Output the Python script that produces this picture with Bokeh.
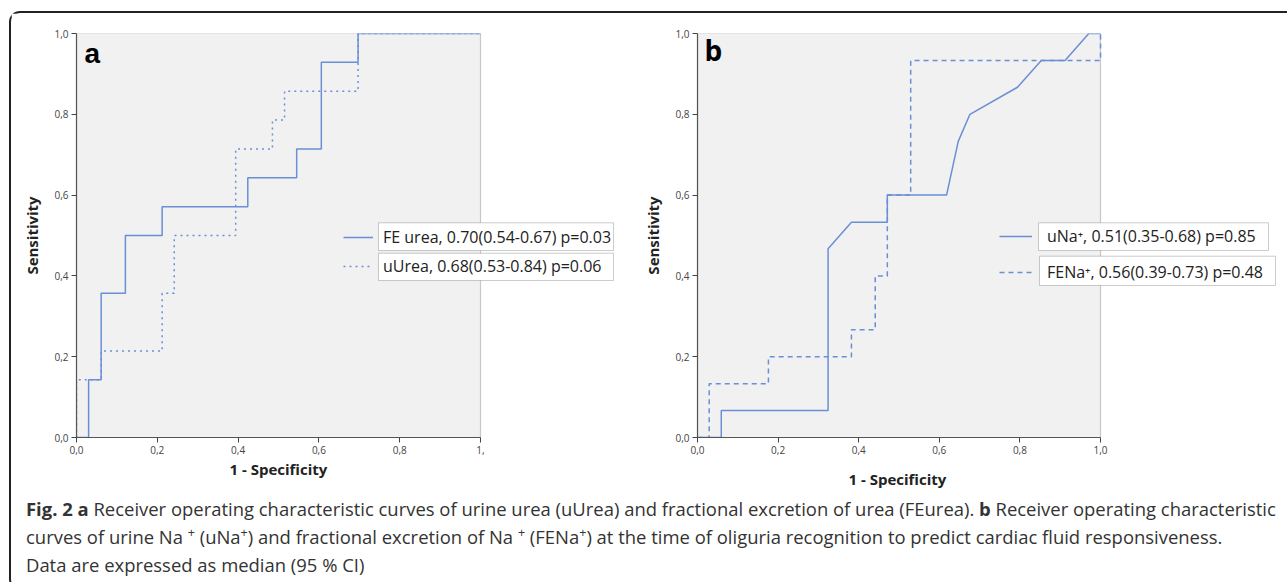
from bokeh.plotting import figure
from bokeh.models import (Range1d, FixedTicker, Legend, LegendItem, BoxAnnotation,
                          Label, Div, Title)
from bokeh.layouts import column, row
from bokeh.embed import file_html
from bokeh.resources import INLINE

# ---------------- data ----------------
ticks = [0, 0.2, 0.4, 0.6, 0.8, 1.0]
tick_labels = ["0,0", "0,2", "0,4", "0,6", "0,8", "1,0"]

# panel a : FE urea (solid)
fe_urea_fpr = [0, 0.030, 0.030, 0.061, 0.061, 0.121, 0.121, 0.212, 0.212, 0.424, 0.424,
               0.545, 0.545, 0.606, 0.606, 0.697, 0.697, 1.0]
fe_urea_tpr = [0, 0, 0.143, 0.143, 0.357, 0.357, 0.500, 0.500, 0.571, 0.571, 0.643,
               0.643, 0.714, 0.714, 0.929, 0.929, 1.0, 1.0]
# panel a : uUrea (dotted)
uurea_fpr = [0, 0, 0.061, 0.061, 0.212, 0.212, 0.242, 0.242, 0.394, 0.394, 0.485, 0.485,
             0.515, 0.515, 0.697, 0.697, 1.0]
uurea_tpr = [0, 0.143, 0.143, 0.214, 0.214, 0.357, 0.357, 0.500, 0.500, 0.714, 0.714,
             0.786, 0.786, 0.857, 0.857, 1.0, 1.0]
# panel b : uNa+ (solid)
una_fpr = [0, 0.059, 0.059, 0.324, 0.324, 0.382, 0.471, 0.471, 0.618, 0.647, 0.676,
           0.794, 0.853, 0.912, 0.971, 1.0]
una_tpr = [0, 0, 0.067, 0.067, 0.467, 0.533, 0.533, 0.600, 0.600, 0.733, 0.800,
           0.867, 0.933, 0.933, 1.0, 1.0]
# panel b : FENa+ (dashed)
fena_fpr = [0, 0.029, 0.029, 0.176, 0.176, 0.382, 0.382, 0.441, 0.441, 0.471, 0.471,
            0.529, 0.529, 1.0, 1.0]
fena_tpr = [0, 0, 0.133, 0.133, 0.200, 0.200, 0.267, 0.267, 0.400, 0.400, 0.600,
            0.600, 0.933, 0.933, 1.0]

legend_a = ["FE urea, 0.70(0.54-0.67) p=0.03", "uUrea, 0.68(0.53-0.84) p=0.06"]
legend_b = ["uNa\u207a, 0.51(0.35-0.68) p=0.85", "FENa\u207a, 0.56(0.39-0.73) p=0.48"]
x_title = "1 - Specificity"
y_title = "Sensitivity"

LINE = "#6a8fd5"
FONT = "Open Sans"
FIG_H = 486
TOP = 20
BOTTOM = 62


def make_panel(width, bl, br, x_end, x_override, letter, letter_font,
               letter_x, letter_y, title_offset, title_standoff):
    p = figure(width=width, height=FIG_H, output_backend="svg", toolbar_location=None,
               title=None, x_range=Range1d(0, x_end), y_range=Range1d(0, 1),
               min_border_left=bl, min_border_right=br, min_border_top=TOP,
               min_border_bottom=BOTTOM)
    p.background_fill_color = "white"
    p.border_fill_color = "white"
    p.outline_line_color = None
    p.grid.visible = False
    # the plotting area of the chart (0..1 x 0..1)
    p.add_layout(BoxAnnotation(left=0, right=1, bottom=0, top=1, fill_color="#f1f1f1",
                               fill_alpha=1, line_color="#555555", line_width=1.2,
                               level="underlay"))
    for ax in (p.xaxis[0], p.yaxis[0]):
        ax.ticker = FixedTicker(ticks=ticks)
        ax.bounds = (0, 1)
        ax.minor_tick_line_color = None
        ax.major_tick_in = 0
        ax.major_tick_out = 5
        ax.major_tick_line_color = "#444444"
        ax.axis_line_color = "#555555"
        ax.axis_line_width = 1.2
        ax.major_label_text_font = FONT
        ax.major_label_text_font_size = "10px"
        ax.major_label_text_color = "#444444"
        ax.major_label_standoff = 3
        ax.axis_label_text_font = FONT
        ax.axis_label_text_font_size = "15px"
        ax.axis_label_text_font_style = "bold"
        ax.axis_label_text_color = "#222222"
    p.yaxis[0].major_label_overrides = dict(zip(ticks, tick_labels))
    xl = dict(zip(ticks, tick_labels))
    xl[1.0] = x_override
    p.xaxis[0].major_label_overrides = xl
    p.yaxis[0].axis_label = y_title
    p.yaxis[0].axis_label_standoff = 9
    # x title centred under the 0..1 part of the axis
    p.add_layout(Title(text=x_title, align="left", offset=title_offset,
                       standoff=title_standoff, text_font=FONT, text_font_size="15px",
                       text_font_style="bold", text_color="#222222"), "below")
    p.add_layout(Label(x=letter_x, y=letter_y, x_units="screen", y_units="screen", text=letter,
                       text_font=letter_font, text_font_size="28px", text_font_style="bold",
                       text_color="black", text_baseline="middle"))
    return p


def add_legend(p, texts, rends, ylocs, boxes, xloc, gw, standoff):
    for (l, r, t, b) in boxes:
        p.add_layout(BoxAnnotation(left=l, right=r, top=t, bottom=b, left_units="screen",
                                   right_units="screen", top_units="screen",
                                   bottom_units="screen", fill_color="white", fill_alpha=1,
                                   line_color="#555555", line_width=1))
    for txt, rend, yloc in zip(texts, rends, ylocs):
        lg = Legend(items=[LegendItem(label=txt, renderers=[rend])], location=(xloc, yloc),
                    padding=0, margin=0, border_line_alpha=0, background_fill_alpha=0,
                    glyph_width=gw, glyph_height=20, label_standoff=standoff, label_height=20,
                    label_text_font=FONT, label_text_font_size="16px",
                    label_text_color="#222222")
        p.add_layout(lg)


# ---------------- panel a ----------------
pa = make_panel(609, 65, 4, 540 / 404, "1,", "a", "Liberation Sans", 8, 383.7, 153, 0)
ra1 = pa.line(fe_urea_fpr, fe_urea_tpr, line_color=LINE, line_width=1.5)
ra2 = pa.line(uurea_fpr, uurea_tpr, line_color=LINE, line_width=1.5, line_dash="2 4")
add_legend(pa, legend_a, [ra1, ra2], [188.7, 159.7],
           [(302, 537, 214.7, 187), (302, 537, 184.3, 157)], 267, 30, 10)

# ---------------- panel b ----------------
pb = make_panel(666, 77, 4, 585 / 403, "1,0", "b", "Open Sans", 7, 387.6, 151, 20)
rb1 = pb.line(una_fpr, una_tpr, line_color=LINE, line_width=1.5)
rb2 = pb.line(fena_fpr, fena_tpr, line_color=LINE, line_width=1.5, line_dash="5 4")
add_legend(pb, legend_b, [rb1, rb2], [190.3, 153.7],
           [(341, 571, 214.7, 187), (342, 578, 181.3, 152)], 302, 33, 15)

# ---------------- caption ----------------
SUP = '<sup style="font-size:0.68em;line-height:0">+</sup>'
caption_html = (
    '<div style="position:relative;top:-9px;font-family:\'Open Sans\';font-size:18.45px;'
    'line-height:27.8px;color:#333;white-space:nowrap;padding-left:10px;">'
    '<b>Fig. 2 a</b> Receiver operating characteristic curves of urine urea (uUrea) and '
    'fractional excretion of urea (FEurea). <b>b</b> Receiver operating characteristic<br>'
    'curves of urine Na ' + SUP + ' (uNa' + SUP + ') and fractional excretion of Na '
    + SUP + ' (FENa' + SUP + ') at the time of oliguria recognition to predict cardiac '
    'fluid responsiveness.<br>'
    'Data are expressed as median (95 % CI)</div>'
)
cap = Div(text=caption_html, width=1275, height=79)

layout = column(row(pa, pb), cap, margin=(11, 0, 0, 9),
                styles={"box-sizing": "content-box", "border": "2px solid #222222",
                        "border-right": "none", "border-radius": "11px 0 0 11px"})

open("out.html", "w").write(file_html(layout, INLINE))
